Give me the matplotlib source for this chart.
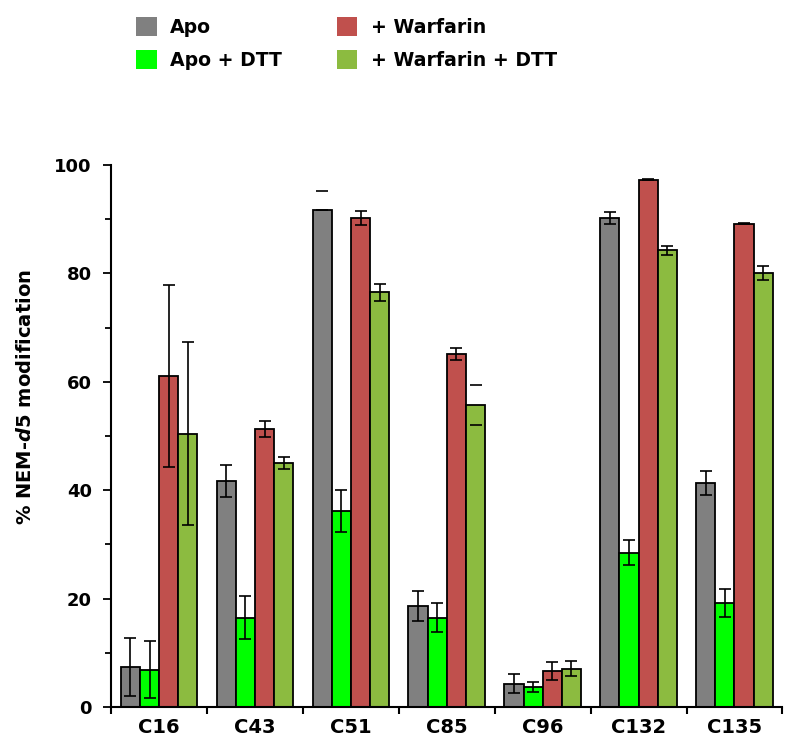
import matplotlib
matplotlib.use("Agg")
import matplotlib.pyplot as plt
import numpy as np
from matplotlib.patches import Patch

plt.rcParams['font.family'] = ['DejaVu Sans']
plt.rcParams['font.weight'] = 'bold'
plt.rcParams['mathtext.fontset'] = 'custom'
plt.rcParams['mathtext.it'] = 'DejaVu Sans:italic:bold'
plt.rcParams['mathtext.rm'] = 'DejaVu Sans:bold'

categories = ["C16", "C43", "C51", "C85", "C96", "C132", "C135"]
series_names = ["Apo", "Apo + DTT", "+ Warfarin", "+ Warfarin + DTT"]

apo = [7.4, 41.7, 91.7, 18.7, 4.3, 90.2, 41.3]
apo_err_lo = [5.4, 3.0, 0.0, 2.8, 1.8, 1.05, 2.2]
apo_err_hi = [5.4, 3.0, 3.5, 2.8, 1.8, 1.05, 2.2]

apo_dtt = [6.9, 16.5, 36.2, 16.5, 3.7, 28.5, 19.2]
apo_dtt_err = [5.2, 4.0, 3.9, 2.7, 0.95, 2.3, 2.5]

warf = [61.0, 51.3, 90.2, 65.2, 6.6, 97.3, 89.2]
warf_err = [16.8, 1.5, 1.3, 1.1, 1.65, 0.1, 0.15]

warf_dtt = [50.4, 45.1, 76.5, 55.8, 7.1, 84.3, 80.0]
warf_dtt_err = [16.9, 1.1, 1.6, 3.7, 1.45, 0.85, 1.3]

# error bars drawn as caps only (no vertical line): (series index, category index)
caps_only = [(0, 2), (3, 3)]

colors = ["#808080", "#00FF00", "#C0504D", "#8CBB40"]

values = [apo, apo_dtt, warf, warf_dtt]
errs = [(apo_err_lo, apo_err_hi), (apo_dtt_err, apo_dtt_err),
        (warf_err, warf_err), (warf_dtt_err, warf_dtt_err)]

fig = plt.figure(figsize=(8.0, 7.54), dpi=100)
ax = fig.add_axes([0.139, 0.0623, 0.839, 0.7188])

x = np.arange(len(categories))
width = 0.2
offsets = [-0.3, -0.1, 0.1, 0.3]

for i in range(4):
    xs = x + offsets[i]
    ax.bar(xs, values[i], width, color=colors[i], edgecolor='black',
           linewidth=1.3, zorder=2)
    lo, hi = errs[i]
    for j in range(len(categories)):
        elw = 0 if (i, j) in caps_only else 1.2
        ax.errorbar(xs[j], values[i][j], yerr=[[lo[j]], [hi[j]]], fmt='none',
                    ecolor='black', elinewidth=elw, capsize=4.5, capthick=1.2,
                    zorder=3)

ax.set_xlim(-0.5, 6.5)
ax.set_ylim(0, 100)
ax.spines['top'].set_visible(False)
ax.spines['right'].set_visible(False)
ax.spines['left'].set_linewidth(1.5)
ax.spines['bottom'].set_linewidth(1.5)

ax.set_yticks([0, 20, 40, 60, 80, 100])
ax.set_yticks([10, 30, 50, 70, 90], minor=True)
ax.set_xticks(x)
ax.set_xticklabels(categories, fontsize=14, fontweight='bold')
ax.set_xticks(np.arange(-0.5, 7.0, 1.0), minor=True)
ax.tick_params(axis='x', which='major', length=0, pad=8)
ax.tick_params(axis='x', which='minor', length=5, width=1.5, direction='out')
ax.tick_params(axis='y', which='major', length=6, width=1.3, direction='out', pad=8)
ax.tick_params(axis='y', which='minor', length=4, width=1.3, direction='out')
for lab in ax.get_yticklabels():
    lab.set_fontsize(13)
    lab.set_fontweight('bold')

ax.set_ylabel('% NEM-$\\mathit{d5}$ modification', fontsize=14,
              fontweight='bold')
ax.yaxis.set_label_coords(-0.114, 0.572)

handles = [Patch(facecolor=c, edgecolor='none') for c in colors]
fig.legend(handles, series_names,
           loc='upper left', bbox_to_anchor=(136 / 800, 1 - 17 / 754), ncol=2,
           frameon=False, prop={'weight': 'bold', 'size': 13.6},
           handlelength=1.1, handleheight=1.17, handletextpad=0.7,
           columnspacing=2.9, labelspacing=0.72, borderpad=0,
           borderaxespad=0)

fig.savefig("out.png", dpi=100)
